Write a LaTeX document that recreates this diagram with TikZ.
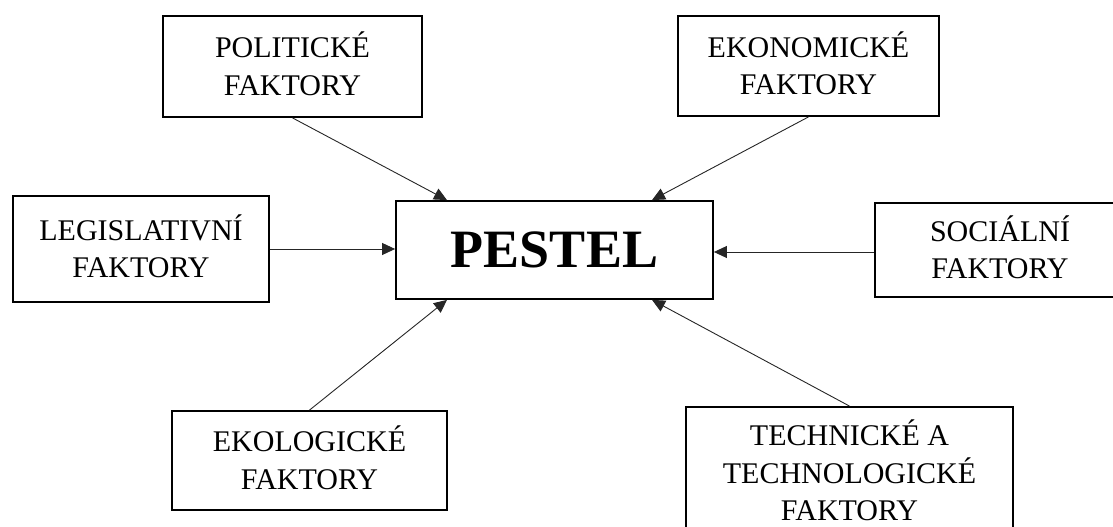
\documentclass[tikz,border=0pt]{standalone}
\usepackage{fontspec}
\setmainfont{Liberation Serif}
\usetikzlibrary{arrows.meta}
\tikzset{
  fbox/.style={draw=black, line width=1.8pt, inner sep=0pt, align=center,
    font=\fontsize{30}{37.5}\selectfont, text height=57.5pt, text depth=0pt},
  tbox/.style={fbox, text height=95pt},
  mainbox/.style={draw=black, line width=1.8pt, inner sep=0pt, align=center,
    font=\fontsize{54}{60}\selectfont\bfseries, text height=36pt, text depth=0pt},
  arr/.style={draw=black!85, line width=0.9pt, -{Triangle[length=13pt,width=12pt]}}
}
\begin{document}
\begin{tikzpicture}[x=1pt,y=1pt]
\useasboundingbox (0,0) rectangle (1113,527);
\node[mainbox, minimum width=317pt, minimum height=98pt] (pes) at (554.5,277) {PESTEL};
\node[fbox, minimum width=259pt, minimum height=101pt] (pol) at (292.5,460.5) {POLITICKÉ\\FAKTORY};
\node[fbox, minimum width=261pt, minimum height=100pt] (eko) at (808.5,461) {EKONOMICKÉ\\FAKTORY};
\node[fbox, minimum width=256pt, minimum height=106pt] (leg) at (141,278) {LEGISLATIVNÍ\\FAKTORY};
\node[fbox, minimum width=250pt, minimum height=94pt] (soc) at (1000,277) {SOCIÁLNÍ\\FAKTORY};
\node[fbox, minimum width=275pt, minimum height=99pt] (ekol) at (309.5,66.5) {EKOLOGICKÉ\\FAKTORY};
\node[tbox, minimum width=327pt, minimum height=133pt] (tech) at (849.5,53.5) {TECHNICKÉ A\\TECHNOLOGICKÉ\\FAKTORY};
\draw[arr] (pol.south) -- ([xshift=-107.5pt]pes.north);
\draw[arr] (eko.south) -- ([xshift=97.5pt]pes.north);
\draw[arr] (leg.east) -- (leg.east -| pes.west);
\draw[arr] ([yshift=-2pt]soc.west) -- ([yshift=-2pt]soc.west -| pes.east);
\draw[arr] (ekol.north) -- ([xshift=-107.5pt]pes.south);
\draw[arr] (tech.north) -- ([xshift=97.5pt]pes.south);
\end{tikzpicture}
\end{document}
